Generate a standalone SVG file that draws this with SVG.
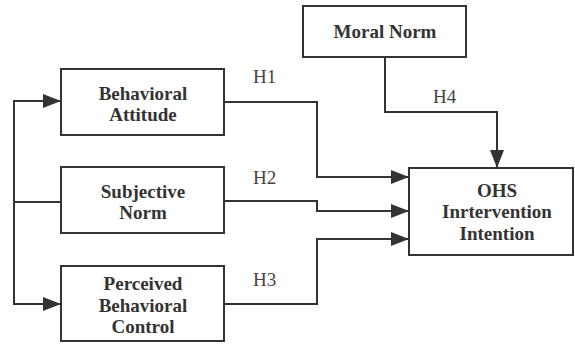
<svg xmlns="http://www.w3.org/2000/svg" width="575" height="344" viewBox="0 0 575 344">
<style>
.box{fill:#fff;stroke:#333;stroke-width:2}
.lbl{font-family:'Liberation Serif','DejaVu Serif',serif;font-weight:bold;font-size:19px;fill:#333;text-anchor:middle}
.h{font-family:'Liberation Serif','DejaVu Serif',serif;font-size:19px;fill:#444}
.con{fill:none;stroke:#333;stroke-width:2}
</style>
<defs>
<marker id="arr" markerUnits="userSpaceOnUse" markerWidth="18" markerHeight="14" refX="18" refY="7" orient="auto">
<path d="M0,0 L18,7 L0,14 z" fill="#333"/>
</marker>
</defs>
<rect width="575" height="344" fill="#fff"/>
<g id="connectors">
<path class="con" d="M14,202 V101 H61" marker-end="url(#arr)"/>
<path class="con" d="M14,202 V304 H61" marker-end="url(#arr)"/>
<path class="con" d="M14,202 H61"/>
<path class="con" d="M224,102 H317 V177 H409" marker-end="url(#arr)"/>
<path class="con" d="M224,201 H317 V211 H409" marker-end="url(#arr)"/>
<path class="con" d="M224,304 H317 V239 H409" marker-end="url(#arr)"/>
<path class="con" d="M385,57 V112 H497 V168" marker-end="url(#arr)"/>
<text class="h" x="253" y="83">H1</text>
<text class="h" x="253" y="184">H2</text>
<text class="h" x="253" y="286">H3</text>
<text class="h" x="433" y="103">H4</text>
</g>
<g id="moral-norm">
<rect class="box" x="303" y="6" width="163" height="51"/>
<text class="lbl" x="385" y="38">Moral Norm</text>
</g>
<g id="behavioral-attitude">
<rect class="box" x="61" y="69" width="163" height="66"/>
<text class="lbl" x="143" y="100">Behavioral</text>
<text class="lbl" x="143" y="121">Attitude</text>
</g>
<g id="subjective-norm">
<rect class="box" x="61" y="167" width="163" height="66"/>
<text class="lbl" x="143" y="198">Subjective</text>
<text class="lbl" x="143" y="219">Norm</text>
</g>
<g id="perceived-behavioral-control">
<rect class="box" x="61" y="266" width="163" height="75"/>
<text class="lbl" x="143" y="290">Perceived</text>
<text class="lbl" x="143" y="312">Behavioral</text>
<text class="lbl" x="143" y="333">Control</text>
</g>
<g id="ohs-intention">
<rect class="box" x="409" y="168" width="164" height="87"/>
<text class="lbl" x="497" y="197">OHS</text>
<text class="lbl" x="497" y="218">Inrtervention</text>
<text class="lbl" x="497" y="240">Intention</text>
</g>
</svg>
